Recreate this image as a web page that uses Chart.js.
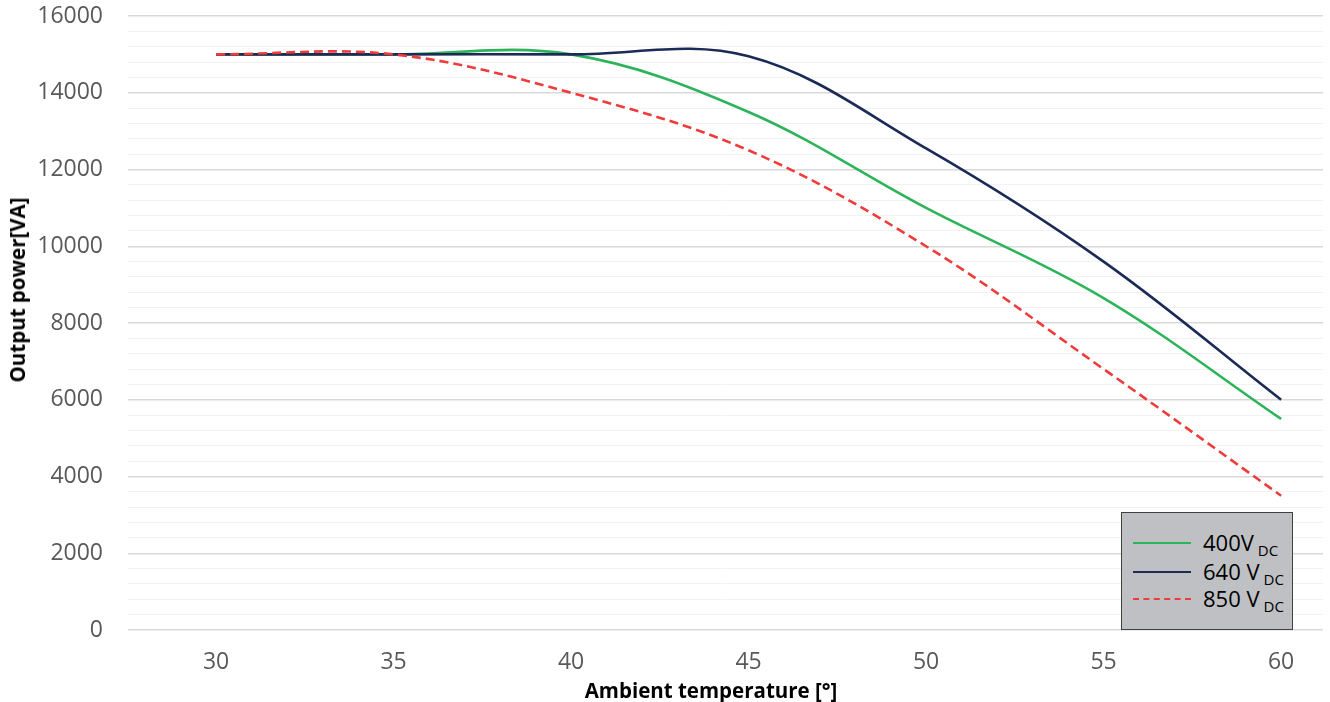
<!DOCTYPE html>
<html>
<head>
<meta charset="utf-8">
<script src="https://cdn.jsdelivr.net/npm/chart.js@4/dist/chart.umd.min.js"></script>
<style>
  body { margin: 0; background: #fff; }
  #wrap { position: relative; width: 1330px; height: 702px; font-family: "Open Sans", sans-serif; overflow: hidden; }
  #c { position: absolute; left: 0; top: 0; }
  .axtitle { position: absolute; font-weight: bold; font-size: 20.5px; color: #000; white-space: nowrap; }
  #ytitle { left: 17px; top: 290px; transform: translate(-50%, -50%) rotate(-90deg); }
  #xtitle { left: 711px; top: 690px; transform: translate(-50%, -50%); }
  #legend { position: absolute; left: 1121px; top: 512px; width: 172px; height: 118px; background: #bfc0c4; border: 1px solid #404040; box-sizing: border-box; }
  .lg-item { position: absolute; left: 0; height: 0; }
  .lg-line { position: absolute; left: 11px; width: 58px; height: 0; }
  .lg-text { position: absolute; left: 81px; top: -16px; font-size: 22px; line-height: 30px; color: #000; white-space: nowrap; }
  .lg-text sub { font-size: 15px; vertical-align: -5px; margin-left: 4px; }
</style>
</head>
<body>
<div id="wrap">
  <canvas id="c" width="1330" height="702"></canvas>
  <div id="ytitle" class="axtitle"></div>
  <div id="xtitle" class="axtitle"></div>
  <div id="legend"></div>
</div>
<script>
// ---- data ----
const temperatures = [30, 35, 40, 45, 50, 55, 60];
const power400 = [15000, 15000, 15000, 13500, 11000, 8650, 5500];
const power640 = [15000, 15000, 15000, 14950, 12550, 9600, 6000];
const power850 = [15000, 15000, 14000, 12500, 10000, 6800, 3500];
const seriesNames = ['400V', '640 V', '850 V'];
const seriesSub = 'DC';
const xTicks = [30, 35, 40, 45, 50, 55, 60];
const yAxisTitle = 'Output power[VA]';
const xAxisTitle = 'Ambient temperature [°]';

const colors = ['#2db45a', '#1c2a57', '#ef3b3b'];
const seriesValues = [power400, power640, power850];
const dashes = [[], [], [9, 5]];
const orders = [3, 2, 1];

const datasets = seriesValues.map((vals, i) => ({
  label: seriesNames[i] + ' ' + seriesSub,
  data: temperatures.map((t, j) => ({ x: t, y: vals[j] })),
  borderColor: colors[i],
  backgroundColor: colors[i],
  borderWidth: 2.6,
  borderDash: dashes[i],
  borderCapStyle: 'butt',
  pointRadius: 0,
  pointHoverRadius: 0,
  tension: 0.36,
  fill: false,
  order: orders[i]
}));

const tickFont = { family: '"Open Sans", sans-serif', size: 23 };

const chart = new Chart(document.getElementById('c'), {
  type: 'line',
  data: { datasets },
  options: {
    responsive: false,
    animation: false,
    layout: { padding: { top: 16, right: 7, left: 0, bottom: 0 } },
    plugins: { legend: { display: false }, tooltip: { enabled: false } },
    scales: {
      x: {
        type: 'linear',
        min: 27.52,
        max: 61.18,
        afterBuildTicks: (s) => { s.ticks = xTicks.map(v => ({ value: v })); },
        afterFit: (s) => { s.height = 72; s.paddingLeft = 0; s.paddingRight = 0; },
        grid: { display: false, drawTicks: false },
        border: { display: false },
        ticks: { font: tickFont, color: '#595959', padding: 19, maxRotation: 0, autoSkip: false }
      },
      y: {
        min: 0,
        max: 16000,
        afterFit: (s) => { s.width = 128; s.paddingTop = 0; s.paddingBottom = 0; },
        grid: {
          drawTicks: false,
          color: (ctx) => (ctx.tick && ctx.tick.value % 2000 === 0) ? '#d9d9d9' : '#f2f2f2',
          lineWidth: (ctx) => (ctx.tick && ctx.tick.value % 2000 === 0) ? 1.5 : 1
        },
        border: { display: false },
        ticks: {
          stepSize: 400,
          autoSkip: false,
          font: tickFont,
          color: '#595959',
          padding: 25,
          callback: (v) => (v % 2000 === 0 ? String(v) : '')
        }
      }
    }
  }
});

// axis titles
document.getElementById('ytitle').textContent = yAxisTitle;
document.getElementById('xtitle').textContent = xAxisTitle;

// HTML legend built from the chart's datasets
const legend = document.getElementById('legend');
const rowY = [30, 59, 86];
chart.data.datasets.forEach((ds, i) => {
  const item = document.createElement('div');
  item.className = 'lg-item';
  item.style.top = rowY[i] + 'px';
  const line = document.createElement('div');
  line.className = 'lg-line';
  const dashed = ds.borderDash && ds.borderDash.length;
  line.style.borderTop = '2.6px ' + (dashed ? 'dashed ' : 'solid ') + ds.borderColor;
  line.style.top = '-1px';
  const txt = document.createElement('div');
  txt.className = 'lg-text';
  txt.appendChild(document.createTextNode(seriesNames[i]));
  const sub = document.createElement('sub');
  sub.textContent = seriesSub;
  txt.appendChild(sub);
  item.appendChild(line);
  item.appendChild(txt);
  legend.appendChild(item);
});
</script>
</body>
</html>
